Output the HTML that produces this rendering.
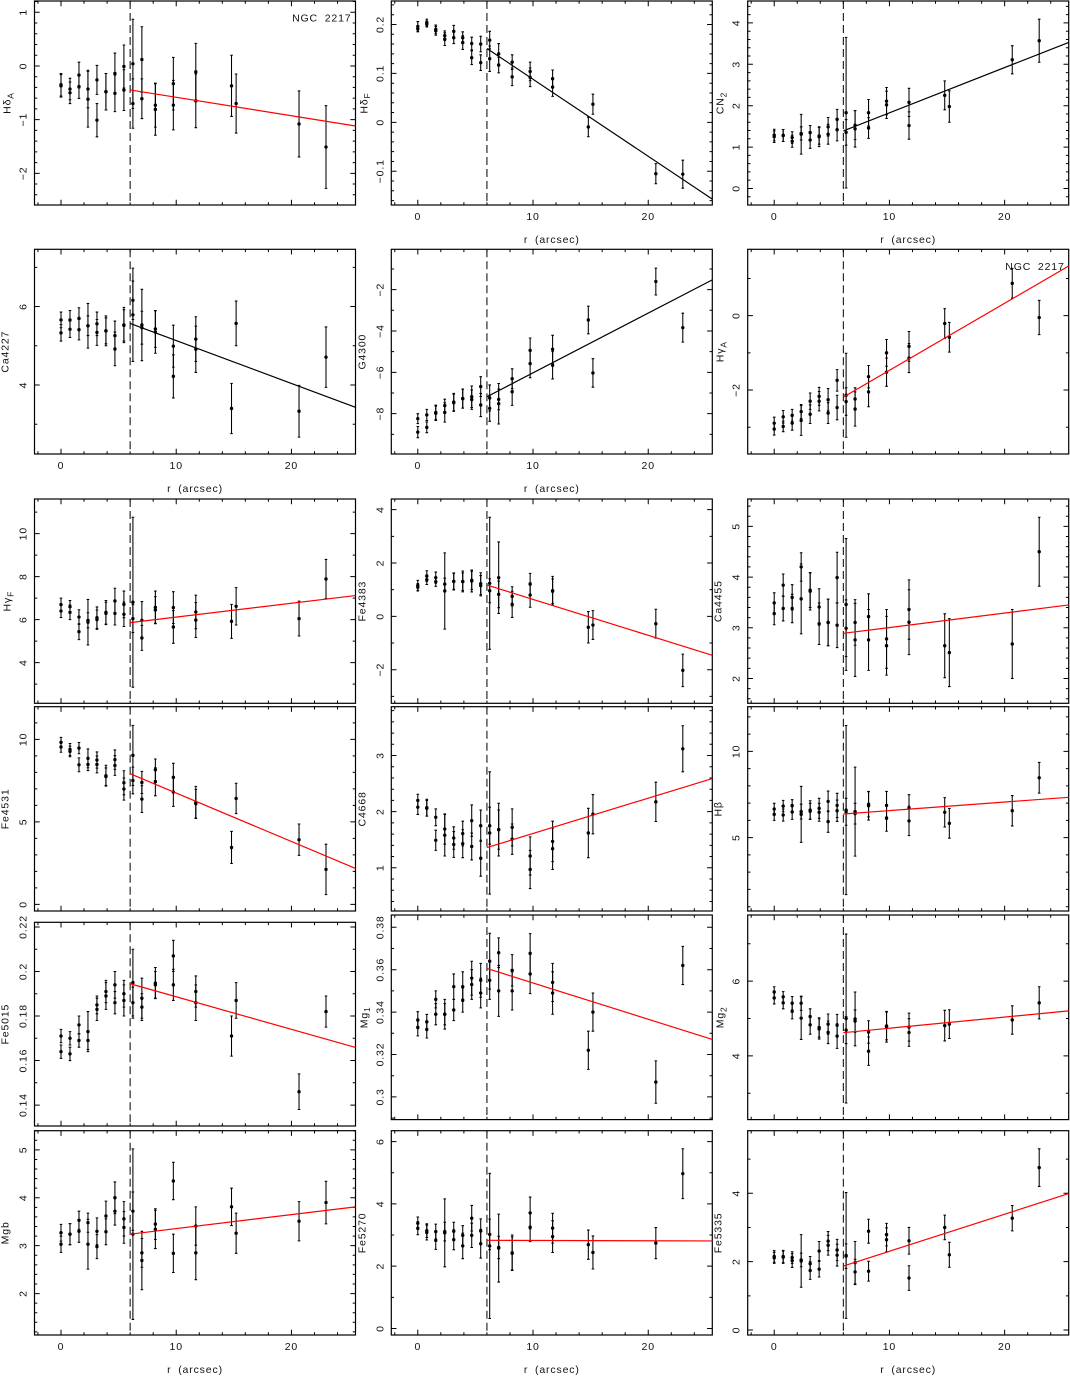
<!DOCTYPE html>
<html lang="en">
<head>
<meta charset="utf-8">
<title>NGC 2217 line-strength index gradients</title>
<style>
html,body{margin:0;padding:0;background:#fff}
svg{display:block}
text{font-family:"Liberation Sans",sans-serif;font-size:10.5px;fill:#111;letter-spacing:.85px;word-spacing:3px}
</style>
</head>
<body>
<svg id="figure" xmlns="http://www.w3.org/2000/svg" width="1070" height="1376" viewBox="0 0 1070 1376"></svg>
<script>
const radius=[0,0,.78,.78,1.56,1.56,2.34,2.34,3.12,3.12,3.9,3.9,4.68,4.68,5.46,5.46,6.24,6.24,7.02,7.02,8.19,8.19,9.75,9.75,11.7,11.7,14.8,15.2,20.66,23];
const xTickLabels=[0,10,20];
const cutoffRadius=6;

const HdA_val=[-.35,-.37,-.43,-.5,-.17,-.385,-.43,-.62,-.26,-1.01,-.48,-.48,-.14,-.51,-.01,-.45,.04,-.7,.12,-.61,-.73,-.81,-.33,-.73,-.11,-.65,-.37,-.7,-1.08,-1.51];
const HdA_err=[.21,.21,.2,.2,.24,.22,.35,.52,.27,.31,.34,.34,.38,.34,.4,.38,.83,.46,.61,.37,.41,.48,.49,.46,.53,.5,.57,.55,.615,.77];
const HdF_val=[.196,.191,.204,.201,.19,.187,.177,.17,.186,.173,.173,.163,.161,.132,.16,.122,.168,.13,.14,.117,.123,.093,.104,.092,.089,.072,-.0095,.037,-.105,-.106];
const HdF_err=[.01,.006,.007,.006,.009,.009,.01,.013,.012,.012,.012,.014,.013,.014,.016,.016,.018,.026,.021,.016,.015,.018,.019,.019,.018,.019,.02,.0205,.0205,.0286];
const CN2_val=[1.29,1.25,1.28,1.28,1.23,1.14,1.33,1.31,1.35,1.17,1.27,1.25,1.49,1.31,1.67,1.42,1.83,1.355,1.53,1.44,1.83,1.46,2.11,2.02,2.08,1.52,2.25,1.98,3.11,3.57];
const CN2_err=[.14,.14,.145,.145,.14,.145,.16,.48,.17,.2,.2,.24,.225,.24,.24,.27,1.82,.31,.35,.44,.32,.25,.33,.33,.34,.33,.35,.38,.34,.52];
const Ca4227_val=[5.66,5.33,5.66,5.42,5.7,5.41,5.51,5.51,5.56,5.34,5.38,5.38,5.26,4.92,5.53,5.52,6.16,5.79,5.53,5.46,5.43,5.35,4.99,4.22,5.17,4.91,3.4,5.57,3.33,4.71];
const Ca4227_err=[.2,.21,.24,.21,.27,.26,.57,.25,.3,.33,.38,.33,.37,.43,.45,.4,.49,1.19,.91,.42,.47,.54,.535,.55,.57,.59,.64,.57,.66,.77];
const G4300_val=[-8.24,-8.89,-8.06,-8.66,-7.94,-7.98,-7.61,-7.94,-7.44,-7.47,-7.27,-7.27,-7.18,-7.32,-6.69,-7.58,-7.24,-7.74,-7.31,-7.52,-6.31,-6.94,-4.94,-5.58,-4.89,-5.66,-3.47,-6.03,-1.61,-3.84];
const G4300_err=[.24,.27,.27,.26,.35,.35,.31,.47,.42,.42,.46,.46,.52,.47,.48,.56,.63,.63,.5,.98,.48,.66,.6,.68,.68,.66,.67,.69,.65,.7];
const HgA_val=[-2.89,-3.05,-2.72,-2.98,-2.68,-2.89,-2.58,-2.82,-2.3,-2.65,-2.17,-2.3,-2.26,-2.62,-1.74,-2.47,-2.14,-2.31,-2.24,-2.51,-1.64,-2.05,-1,-1.52,-.825,-1.14,-.21,-.58,.87,-.05];
const HgA_err=[.16,.16,.17,.14,.16,.19,.19,.4,.22,.25,.24,.26,.3,.28,.29,.33,1.13,.37,.3,.46,.3,.4,.36,.38,.4,.39,.4,.4,.4,.46];
const HgF_val=[6.7,6.4,6.6,6.34,6.12,5.44,5.97,5.88,6.09,6,6.34,6.29,6.87,6.29,6.71,6.25,6.81,6.05,5.97,5.15,6.57,6.45,6.56,5.66,6.36,5.98,5.92,6.62,6.05,7.89];
const HgF_err=[.3,.3,.29,.34,.34,.37,.35,1.06,.5,.45,.55,.52,.59,.54,.62,.57,3.95,.65,.87,.58,.76,.62,.74,.76,.78,.81,.79,.87,.81,.91];
const Fe4383_val=[1.16,1.09,1.51,1.375,1.45,1.3,1.21,.95,1.31,1.31,1.31,1.3,1.35,1.325,1.225,1.15,1.24,.96,1.45,.825,.75,.45,1.21,.8,.96,.94,-.41,-.325,-.275,-2.025];
const Fe4383_err=[.19,.14,.2,.18,.21,.175,.22,1.43,.3,.32,.39,.33,.34,.41,.41,.38,2.475,.45,1.34,.5,.36,.49,.4,.46,.54,.46,.59,.54,.54,.61];
const Ca4455_val=[3.49,3.28,3.84,3.38,3.6,3.38,4.2,3.57,3.74,3.72,3.41,3.08,3.105,3.105,3.99,3.05,3.46,2.99,3.105,2.76,3.22,2.76,2.78,2.645,3.36,3.11,2.645,2.51,2.68,4.5];
const Ca4455_err=[.2,.22,.22,.245,.25,.28,.28,.69,.34,.37,.36,.41,.46,.46,.5,.44,1.3,.56,.45,.72,.45,.6,.58,.58,.585,.64,.63,.67,.68,.68];
const Fe4531_val=[9.82,9.54,9.39,9.27,9.47,8.46,8.85,8.48,8.75,8.48,7.8,7.74,8.77,8.42,7.37,6.99,9.03,7.51,7.39,6.38,8.16,7.43,7.7,6.81,6.18,6.1,3.45,6.42,3.92,2.12];
const Fe4531_err=[.3,.32,.36,.32,.34,.42,.57,.37,.49,.51,.63,.53,.59,.6,.73,.67,1.82,.81,.67,.81,.65,.85,.85,.87,.97,.87,.97,.92,.95,1.53];
const C4668_val=[2.2,2.08,2.07,2.06,1.9,1.49,1.69,1.58,1.53,1.415,1.61,1.43,1.84,1.38,1.75,1.17,1.75,1.62,1.68,1.68,1.72,1.51,1.21,.97,1.47,1.34,1.62,1.955,2.175,3.12];
const C4668_err=[.11,.13,.15,.14,.15,.18,.27,.37,.2,.23,.22,.25,.28,.24,.28,.32,.33,1.09,.47,.35,.33,.27,.34,.34,.36,.37,.44,.35,.35,.41];
const Hb_val=[6.66,6.35,6.83,6.31,6.85,6.49,6.51,6.35,6.6,6.53,6.7,6.47,7.1,5.93,6.87,6.56,6.6,6.5,6.51,6.39,6.93,6.85,6.87,6.14,6.72,5.97,6.47,5.83,6.56,8.47];
const Hb_err=[.33,.35,.33,.35,.35,.43,.43,1.62,.54,.46,.58,.52,.6,.62,.7,.62,4.9,.78,2.58,.6,.73,.83,.81,.77,.77,.85,.85,.86,.88,.89];
const Fe5015_val=[.171,.164,.17,.163,.176,.169,.173,.169,.185,.183,.191,.189,.194,.186,.19,.187,.195,.186,.188,.184,.1948,.194,.207,.194,.191,.186,.171,.187,.146,.182];
const Fe5015_err=[.003,.003,.003,.003,.004,.003,.009,.004,.004,.005,.005,.006,.006,.005,.006,.007,.015,.007,.009,.006,.007,.006,.007,.007,.007,.008,.009,.008,.008,.007];
const Mg1_val=[.3362,.3328,.3354,.3318,.346,.339,.339,.339,.352,.341,.352,.3457,.356,.353,.355,.349,.364,.355,.368,.35,.3597,.35,.3677,.358,.354,.349,.322,.34,.307,.362];
const Mg1_err=[.004,.004,.0035,.004,.004,.005,.007,.005,.006,.005,.007,.0057,.008,.007,.008,.007,.0132,.009,.007,.012,.0074,.009,.0093,.0093,.009,.01,.009,.009,.01,.009];
const Mg2_val=[5.71,5.55,5.58,5.42,5.41,5.19,5.41,5.01,5.05,4.83,4.76,4.72,4.85,4.63,4.82,4.53,5,4.69,4.99,4.93,4.64,4.125,4.8,4.78,4.77,4.625,4.81,4.85,4.96,5.42];
const Mg2_err=[.14,.16,.14,.16,.18,.2,.19,.57,.21,.25,.26,.27,.27,.3,.29,.33,2.26,.36,.72,.3,.3,.38,.37,.41,.375,.37,.41,.385,.38,.43];
const Mgb_val=[3.27,3.03,3.24,3.24,3.53,3.3,3.48,3.03,3.3,2.98,3.62,3.29,4,3.72,3.56,3.38,3.72,3.24,2.85,2.69,3.45,3.34,4.35,2.84,3.41,2.85,3.81,3.26,3.51,3.9];
const Mgb_err=[.175,.17,.22,.22,.19,.23,.2,.52,.28,.25,.31,.27,.33,.29,.36,.33,.4,1.78,.3,.61,.32,.4,.39,.4,.4,.56,.39,.42,.41,.445];
const Fe5270_val=[3.38,3.22,3.14,3.08,3.11,2.83,3.11,3.07,3.12,2.85,2.99,2.65,3.54,2.99,3.13,2.72,3.02,2.65,2.58,2.6,2.43,2.41,3.71,3.25,3.22,2.95,2.69,2.44,2.74,4.97];
const Fe5270_err=[.2,.21,.22,.24,.24,.29,.3,1.09,.29,.32,.31,.41,.41,.39,.39,.46,.49,2.33,1.09,.36,.57,.53,.51,.46,.48,.51,.47,.53,.5,.8];
const Fe5335_val=[2.15,2.11,2.15,2.13,2.12,2.03,2.05,2.02,1.94,1.74,2.31,1.78,2.6,2.48,2.34,2.19,2.18,2.16,1.97,1.7,2.89,1.72,2.79,2.64,2.61,1.52,3,2.2,3.27,4.75];
const Fe5335_err=[.17,.16,.18,.18,.17,.2,.2,.77,.21,.26,.28,.23,.28,.29,.31,.32,1.84,.36,.62,.37,.35,.29,.33,.35,.39,.36,.36,.365,.37,.55];

/* layout of the page (not data) */
const colLeft=[34.5,391.3,747.7];
const panelWidth=321;
const rowTop=[1,249.3,499,706.7,915,1130.7];
const rowBottom=[205,454,703.3,911,1119.6,1335];
const xMin=-2.3, xMax=25.56;

const panels=[
{id:'hdelta-a',title:['Hδ','A'],col:0,row:0,val:HdA_val,err:HdA_err,yMin:-2.59,yMax:1.21,ticks:[-2,-1,0,1],minor:.2,fit:[-.447,-1.118],red:true,xLab:false,note:true},
{id:'hdelta-f',title:['Hδ','F'],col:1,row:0,val:HdF_val,err:HdF_err,yMin:-.169,yMax:.248,ticks:[-.1,0,.1,.2],minor:.02,fit:[.151,-.157],red:false,xLab:true},
{id:'cn2',title:['CN','2'],col:2,row:0,val:CN2_val,err:CN2_err,yMin:-.4,yMax:4.53,ticks:[0,1,2,3,4],minor:.2,fit:[1.39,3.53],red:false,xLab:true},
{id:'ca4227',title:['Ca4227'],col:0,row:1,val:Ca4227_val,err:Ca4227_err,yMin:2.24,yMax:7.46,ticks:[4,6],minor:1,fit:[5.57,3.43],red:false,xLab:true},
{id:'g4300',title:['G4300'],col:1,row:1,val:G4300_val,err:G4300_err,yMin:-9.95,yMax:-.05,ticks:[-8,-6,-4,-2],minor:1,fit:[-7.18,-1.53],red:false,xLab:true},
{id:'hgamma-a',title:['Hγ','A'],col:2,row:1,val:HgA_val,err:HgA_err,yMin:-3.72,yMax:1.785,ticks:[-2,0],minor:1,fit:[-2.19,1.336],red:true,xLab:false,note:true},
{id:'hgamma-f',title:['Hγ','F'],col:0,row:2,val:HgF_val,err:HgF_err,yMin:2.11,yMax:11.61,ticks:[4,6,8,10],minor:1,fit:[5.86,7.12],red:true,xLab:false},
{id:'fe4383',title:['Fe4383'],col:1,row:2,val:Fe4383_val,err:Fe4383_err,yMin:-3.26,yMax:4.4,ticks:[-2,0,2,4],minor:1,fit:[1.175,-1.46],red:true,xLab:false},
{id:'ca4455',title:['Ca4455'],col:2,row:2,val:Ca4455_val,err:Ca4455_err,yMin:1.51,yMax:5.54,ticks:[2,3,4,5],minor:.2,fit:[2.89,3.45],red:true,xLab:false},
{id:'fe4531',title:['Fe4531'],col:0,row:3,val:Fe4531_val,err:Fe4531_err,yMin:-.4,yMax:11.98,ticks:[0,5,10],minor:1,fit:[7.92,2.18],red:true,xLab:false},
{id:'c4668',title:['C4668'],col:1,row:3,val:C4668_val,err:C4668_err,yMin:.23,yMax:3.87,ticks:[1,2,3],minor:.2,fit:[1.36,2.59],red:true,xLab:false},
{id:'hbeta',title:['Hβ'],col:2,row:3,val:Hb_val,err:Hb_err,yMin:.75,yMax:12.59,ticks:[5,10],minor:1,fit:[6.37,7.34],red:true,xLab:false},
{id:'fe5015',title:['Fe5015'],col:0,row:4,top:922.3,bottom:1126,val:Fe5015_val,err:Fe5015_err,yMin:.1306,yMax:.2221,ticks:[.14,.16,.18,.2,.22],minor:.01,fit:[.1945,.1659],red:true,xLab:false},
{id:'mg1',title:['Mg','1'],col:1,row:4,val:Mg1_val,err:Mg1_err,yMin:.2893,yMax:.3858,ticks:[.3,.32,.34,.36,.38],minor:.01,fit:[.3606,.3271],red:true,xLab:false},
{id:'mg2',title:['Mg','2'],col:2,row:4,val:Mg2_val,err:Mg2_err,yMin:2.295,yMax:7.77,ticks:[4,6],minor:1,fit:[4.62,5.205],red:true,xLab:false},
{id:'mgb',title:['Mgb'],col:0,row:5,val:Mgb_val,err:Mgb_err,yMin:1.135,yMax:5.4,ticks:[2,3,4,5],minor:.2,fit:[3.24,3.81],red:true,xLab:true},
{id:'fe5270',title:['Fe5270'],col:1,row:5,val:Fe5270_val,err:Fe5270_err,yMin:-.21,yMax:6.35,ticks:[0,2,4,6],minor:1,fit:[2.83,2.81],red:true,xLab:true},
{id:'fe5335',title:['Fe5335'],col:2,row:5,val:Fe5335_val,err:Fe5335_err,yMin:-.146,yMax:5.83,ticks:[0,2,4],minor:1,fit:[1.87,3.99],red:true,xLab:true}
];

const SVGNS='http://www.w3.org/2000/svg';
const svg=document.getElementById('figure');
function make(tag,parent,attrs){
  const el=document.createElementNS(SVGNS,tag);
  for(const k in attrs){el.setAttribute(k,attrs[k]);}
  parent.appendChild(el);
  return el;
}
function fmt(v){return String(Math.round(v*1000)/1000).replace('-','\u2212');}
function multiples(min,max,step){
  const out=[];
  for(let i=Math.ceil(min/step-1e-6);i<=Math.floor(max/step+1e-6);i++){out.push(i*step);}
  return out;
}
const INK='#000';
const FRAME_W=1.2, MAJOR=5.2, MINOR=2.8;

panels.forEach(function(p){
  const left=colLeft[p.col], right=left+panelWidth;
  const top=p.top!==undefined?p.top:rowTop[p.row];
  const bottom=p.bottom!==undefined?p.bottom:rowBottom[p.row];
  const X=function(v){return left+(v-xMin)/(xMax-xMin)*panelWidth;};
  const Y=function(v){return bottom-(v-p.yMin)/(p.yMax-p.yMin)*(bottom-top);};

  const g=make('g',svg,{});
  
  

  const frame=make('rect',g,{x:left,y:top,width:panelWidth,height:bottom-top,fill:'none',stroke:INK,'stroke-width':FRAME_W});
  
  

  /* x axis ticks */
  let dx='';
  multiples(xMin,xMax,2).forEach(function(v){
    const len=Math.abs(v%10)<1e-6?MAJOR:MINOR;
    const x=X(v).toFixed(2);
    dx+='M'+x+' '+bottom+'v'+(-len)+'M'+x+' '+top+'v'+len;
  });
  const xt=make('path',g,{d:dx,stroke:INK,'stroke-width':1,fill:'none'});
  
  

  /* y axis ticks */
  let dy='';
  multiples(p.yMin,p.yMax,p.minor).forEach(function(v){
    const y=Y(v).toFixed(2);
    dy+='M'+left+' '+y+'h'+MINOR+'M'+right+' '+y+'h'+(-MINOR);
  });
  p.ticks.forEach(function(v){
    const y=Y(v).toFixed(2);
    dy+='M'+left+' '+y+'h'+MAJOR+'M'+right+' '+y+'h'+(-MAJOR);
  });
  const yt=make('path',g,{d:dy,stroke:INK,'stroke-width':1,fill:'none'});
  
  

  /* y tick labels */
  p.ticks.forEach(function(v){
    const bx=left-8, by=Y(v);
    const t=make('text',g,{x:bx,y:by,'text-anchor':'middle',transform:'rotate(-90 '+bx+' '+by.toFixed(2)+')'});
    
    
    t.textContent=fmt(v);
  });

  /* y axis title */
  const hasSub=p.title.length>1;
  const tx=left-26+(hasSub?2:0), ty=(top+bottom)/2;
  const title=make('text',g,{x:tx,y:ty,'text-anchor':'middle',transform:'rotate(-90 '+tx+' '+ty+')'});
  
  
  const main=make('tspan',title,{});
  main.textContent=p.title[0];
  if(hasSub){
    const sub=make('tspan',title,{dy:'2.8','font-size':'8.5'});
    sub.textContent=p.title[1];
  }

  /* x labels */
  if(p.xLab){
    xTickLabels.forEach(function(v){
      const t=make('text',g,{x:X(v),y:bottom+15,'text-anchor':'middle'});
      
      
      t.textContent=fmt(v);
    });
    const xl=make('text',g,{x:(left+right)/2,y:bottom+38,'text-anchor':'middle'});
    
    
    xl.textContent='r (arcsec)';
  }

  /* cutoff dashed line */
  const cut=make('line',g,{x1:X(cutoffRadius),x2:X(cutoffRadius),y1:top,y2:bottom,stroke:INK,'stroke-width':1,'stroke-dasharray':'8 4'});
  
  

  /* data */
  p.val.forEach(function(v,i){
    const x=X(radius[i]);
    const y1=Y(v+p.err[i]), y2=Y(v-p.err[i]);
    const a=x.toFixed(2);
    const d='M'+a+' '+y1.toFixed(2)+'V'+y2.toFixed(2)+'M'+(x-1.3).toFixed(2)+' '+y1.toFixed(2)+'h2.6M'+(x-1.3).toFixed(2)+' '+y2.toFixed(2)+'h2.6';
    const bar=make('path',g,{d:d,stroke:INK,'stroke-width':1.05,fill:'none'});
    
    
    const pt=make('circle',g,{cx:a,cy:Y(v).toFixed(2),r:1.7,fill:INK});
    
    
  });

  /* linear fit */
  const fitLine=make('line',g,{x1:X(cutoffRadius),y1:Y(p.fit[0]),x2:right,y2:Y(p.fit[1]),stroke:p.red?'#f00':INK,'stroke-width':1.2});
  
  

  if(p.note){
    const n=make('text',g,{x:right-4,y:top+20.5,'text-anchor':'end'});
    
    
    n.textContent='NGC 2217';
  }
});
</script>
</body>
</html>
